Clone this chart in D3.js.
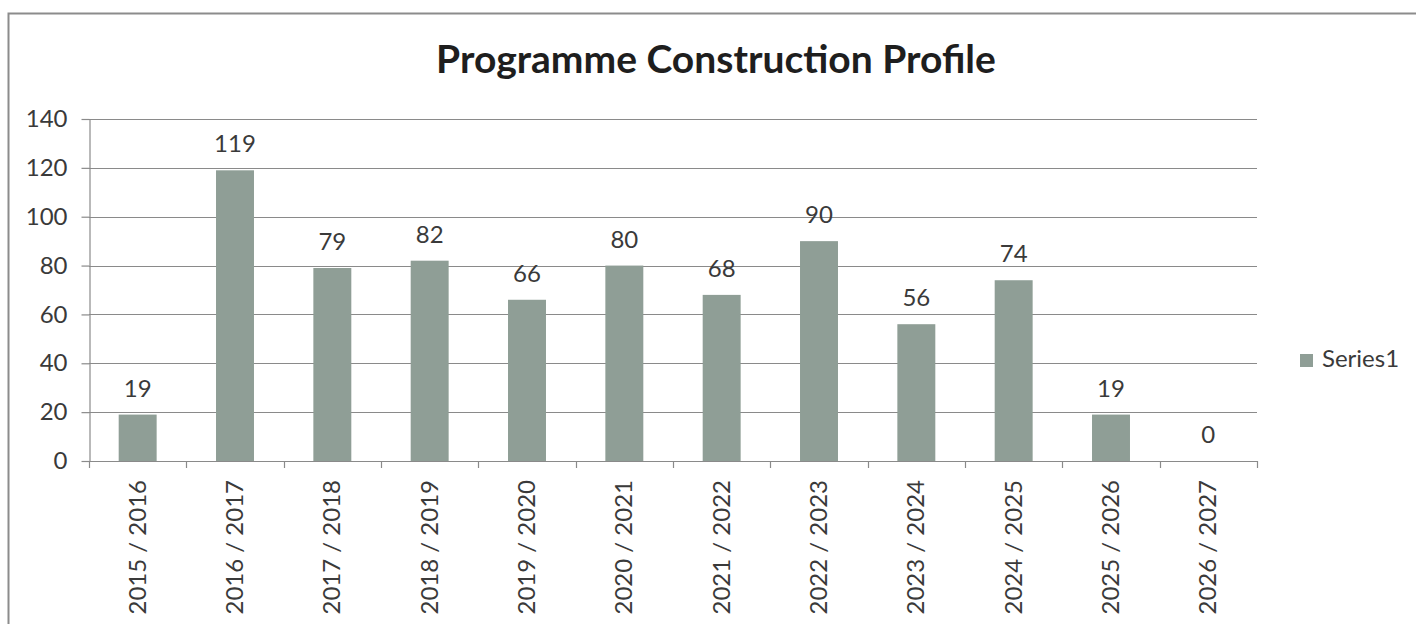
<!DOCTYPE html>
<html>
<head>
<meta charset="utf-8">
<script src="https://cdn.jsdelivr.net/npm/d3@7"></script>
<style>
  body { margin: 0; background: #fff; }
  text { font-family: Lato, "Open Sans", sans-serif; fill: #3a3a3a; }
</style>
</head>
<body>
<div id="chart"></div>
<script>
// chart data
const years = ["2015 / 2016", "2016 / 2017", "2017 / 2018", "2018 / 2019", "2019 / 2020", "2020 / 2021",
               "2021 / 2022", "2022 / 2023", "2023 / 2024", "2024 / 2025", "2025 / 2026", "2026 / 2027"];
const series1 = [19, 119, 79, 82, 66, 80, 68, 90, 56, 74, 19, 0];
const yTicks = [0, 20, 40, 60, 80, 100, 120, 140];
const seriesName = "Series1";
const chartTitle = "Programme Construction Profile";

const W = 1416, H = 624;
const margin = {top: 119, right: 159, bottom: 163, left: 89};
const barColor = "#8f9e96";

let svg = d3.select("#chart").append("svg")
    .attr("width", W)
    .attr("height", H);

// outer chart border (runs off the right and bottom edge)
svg.append("rect")
    .attr("x", 8.5).attr("y", 13.5)
    .attr("width", W + 20).attr("height", H + 20)
    .attr("fill", "none")
    .attr("stroke", "#8c8c8c")
    .attr("stroke-width", 2);

// title
svg.append("text")
    .attr("x", 716).attr("y", 73)
    .attr("text-anchor", "middle")
    .style("font-size", "39px")
    .style("font-weight", "bold")
    .style("fill", "#1e1e1e")
    .text(chartTitle);

let x = d3.scaleBand()
    .domain(years)
    .range([margin.left, W - margin.right])
    .padding(0);
let y = d3.scaleLinear()
    .domain([0, 140])
    .range([H - margin.bottom, margin.top]);

// grid lines
svg.append("g").attr("id", "grid")
    .selectAll("line")
    .data(yTicks.filter(d => d > 0))
    .enter().append("line")
    .attr("x1", margin.left).attr("x2", W - margin.right)
    .attr("y1", d => Math.round(y(d)) + 0.5).attr("y2", d => Math.round(y(d)) + 0.5)
    .attr("stroke", "#8a8a8a")
    .attr("stroke-width", 1.2);

// y axis
let yAxis = svg.append("g")
    .attr("transform", "translate(" + (margin.left + 0.5) + ",0)")
    .call(d3.axisLeft(y).tickValues(yTicks).tickSize(8).tickSizeOuter(0).tickPadding(14));
yAxis.select(".domain").attr("stroke", "#8a8a8a").attr("stroke-width", 1.2);
yAxis.selectAll(".tick line").attr("stroke", "#8a8a8a").attr("stroke-width", 1.2);
yAxis.selectAll("text").style("font-size", "24px").style("fill", "#3a3a3a")
    .attr("font-family", null);

// bars
let bw = x.bandwidth() * 0.39;
svg.append("g").attr("id", "bars")
    .selectAll("rect")
    .data(series1)
    .enter().append("rect")
    .attr("x", (d, i) => x(years[i]) + (x.bandwidth() - bw) / 2)
    .attr("y", d => y(d))
    .attr("width", bw)
    .attr("height", d => y(0) - y(d))
    .attr("fill", barColor);

// data labels
svg.append("g").attr("id", "labels")
    .selectAll("text")
    .data(series1)
    .enter().append("text")
    .attr("x", (d, i) => x(years[i]) + x.bandwidth() / 2)
    .attr("y", d => y(d) - 18)
    .attr("text-anchor", "middle")
    .style("font-size", "24px")
    .text(d => d);

// x axis: ticks sit on the band edges
let xEdges = years.map(d => x(d)).concat([W - margin.right]);
let xAxis = svg.append("g").attr("id", "xaxis");
xAxis.append("line")
    .attr("x1", margin.left).attr("x2", W - margin.right)
    .attr("y1", Math.round(y(0)) + 0.5).attr("y2", Math.round(y(0)) + 0.5)
    .attr("stroke", "#8a8a8a").attr("stroke-width", 1.2);
xAxis.selectAll(".xtick")
    .data(xEdges)
    .enter().append("line")
    .attr("class", "xtick")
    .attr("x1", d => Math.round(d) + 0.5).attr("x2", d => Math.round(d) + 0.5)
    .attr("y1", y(0)).attr("y2", y(0) + 7)
    .attr("stroke", "#8a8a8a").attr("stroke-width", 1.2);
xAxis.selectAll(".xlabel")
    .data(years)
    .enter().append("text")
    .attr("class", "xlabel")
    .attr("transform", d => "translate(" + (x(d) + x.bandwidth() / 2 + 8) + "," + (y(0) + 19) + ") rotate(-90)")
    .attr("text-anchor", "end")
    .style("font-size", "24px")
    .text(d => d);

// legend
let legend = svg.append("g").attr("transform", "translate(1300,354)");
legend.append("rect")
    .attr("width", 13).attr("height", 13)
    .attr("fill", barColor);
legend.append("text")
    .attr("x", 22).attr("y", 13)
    .style("font-size", "24px")
    .text(seriesName);
</script>
</body>
</html>
